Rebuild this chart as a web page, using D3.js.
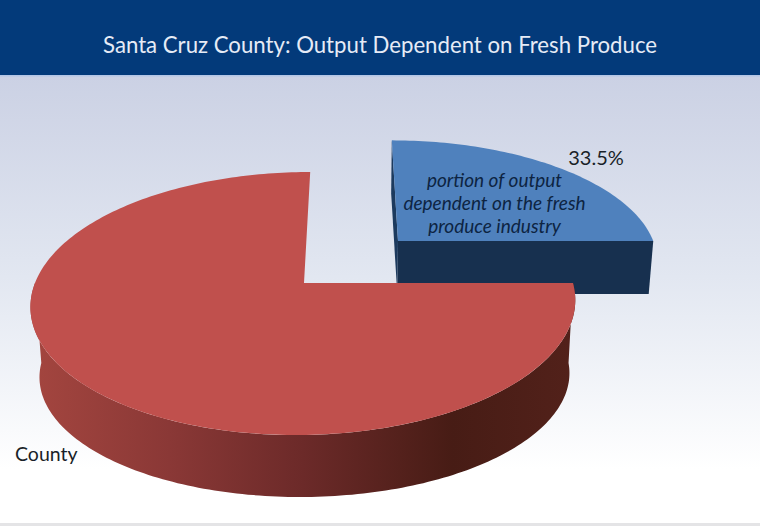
<!DOCTYPE html>
<html>
<head>
<meta charset="utf-8">
<script src="https://cdn.jsdelivr.net/npm/d3@7"></script>
<style>
  html, body { margin: 0; padding: 0; background: #fff; }
  svg { display: block; }
  text { font-family: "Lato", "Open Sans", sans-serif; }
</style>
</head>
<body>
<svg id="chart" width="760" height="526"></svg>
<script>
const titleText = 'Santa Cruz County: Output Dependent on Fresh Produce';

const categories = ['Fresh produce', 'County'];
// the slice is drawn as about a quarter of the pie, even though it is labelled 33.5%
const drawnShares = [25, 75];
const valueLabels = ['33.5%', ''];
const noteLines = ['portion of output', 'dependent on the fresh', 'produce industry'];

const topColors = ['#4f81bd', '#c0504d'];

const svg = d3.select('#chart');
const defs = svg.append('defs');

const bg = defs.append('linearGradient').attr('id', 'bg')
  .attr('x1', 0).attr('y1', 0).attr('x2', 0).attr('y2', 1);
bg.append('stop').attr('offset', '0%').attr('stop-color', '#cbd1e4');
bg.append('stop').attr('offset', '45%').attr('stop-color', '#e2e7f1');
bg.append('stop').attr('offset', '88%').attr('stop-color', '#ffffff');

const wall = defs.append('linearGradient').attr('id', 'redWall')
  .attr('gradientUnits', 'userSpaceOnUse')
  .attr('x1', 36).attr('y1', 0).attr('x2', 570).attr('y2', 0);
wall.append('stop').attr('offset', '0%').attr('stop-color', '#a3453f');
wall.append('stop').attr('offset', '25%').attr('stop-color', '#8a3836');
wall.append('stop').attr('offset', '50%').attr('stop-color', '#6c2a29');
wall.append('stop').attr('offset', '78%').attr('stop-color', '#471c15');
wall.append('stop').attr('offset', '100%').attr('stop-color', '#52211a');

svg.append('rect').attr('width', 760).attr('height', 526).attr('fill', '#fff');
svg.append('rect').attr('y', 76).attr('width', 760).attr('height', 447).attr('fill', 'url(#bg)');
svg.append('rect').attr('y', 523).attr('width', 760).attr('height', 3).attr('fill', '#e4e4e6');
svg.append('rect').attr('width', 760).attr('height', 75).attr('fill', '#033a7a');
svg.append('rect').attr('y', 75).attr('width', 760).attr('height', 1.5).attr('fill', '#b4c6e6');

svg.append('text')
  .attr('x', 380).attr('y', 53)
  .attr('text-anchor', 'middle')
  .attr('fill', '#e6ebf6')
  .attr('font-size', 23)
  .attr('textLength', 554)
  .attr('lengthAdjust', 'spacingAndGlyphs')
  .text(titleText);

// simple perspective: world units are pie radii, y runs toward the viewer
const vx = 350, vy = 283, A = 269, x0 = 0.171;
const planes = {
  top: { B: 128.3, k: 0.156, dy: 0, shrink: 1 },
  redBase: { B: 120.6, k: 0.1, dy: 80, shrink: 0.98 },
  blueBase: { B: 128.3, k: 0.156, dy: 53, shrink: 0.985 }
};

function project(X, Y, plane) {
  const w = 1 - plane.k * Y;
  return [
    vx + plane.shrink * A * (X - x0) / w,
    vy + plane.dy + plane.B * Y / w
  ];
}

const pie = d3.pie().sort(null).value(d => d);
const arcs = pie(drawnShares);
const line = d3.line();

function rimPoints(ox, oy, plane, from, to) {
  const n = Math.ceil((to - from) / 0.02);
  return d3.range(n + 1).map(i => {
    const t = from + (to - from) * i / n;
    return project(ox + Math.sin(t), oy - Math.cos(t), plane);
  });
}

// County slice stays put, the fresh produce slice is pulled out to the back right
const blueOffset = [0.359, -0.345];

function drawBlue() {
  const a = arcs[0];
  const [ox, oy] = blueOffset;
  const g = svg.append('g');
  const c = project(ox, oy, planes.top);
  const cB = project(ox, oy, planes.blueBase);
  const rim = rimPoints(ox, oy, planes.top, a.startAngle, a.endAngle);
  const rimB = rimPoints(ox, oy, planes.blueBase, a.startAngle, a.endAngle);
  g.append('path').attr('d', line([c, rim[0], rimB[0], cB]) + 'Z').attr('fill', '#1c3a5e');
  g.append('path').attr('d', line([c, rim[rim.length - 1], rimB[rimB.length - 1], cB]) + 'Z').attr('fill', '#17304f');
  g.append('path').attr('d', line([c].concat(rim)) + 'Z').attr('fill', topColors[0]);
}

function drawRed() {
  const a = arcs[1];
  const g = svg.append('g');
  const c = project(0, 0, planes.top);
  const rim = rimPoints(0, 0, planes.top, a.startAngle, a.endAngle);
  // only the front half of the wall can be seen
  const wallTop = rimPoints(0, 0, planes.top, a.startAngle, Math.PI * 1.5);
  const wallBase = rimPoints(0, 0, planes.redBase, a.startAngle, Math.PI * 1.5);
  g.append('path')
    .attr('d', line(wallTop.concat(wallBase.slice().reverse())) + 'Z')
    .attr('fill', 'url(#redWall)');
  g.append('path').attr('d', line([c].concat(rim)) + 'Z').attr('fill', topColors[1]);
}

drawBlue();
drawRed();

svg.append('text')
  .attr('x', 596).attr('y', 165)
  .attr('text-anchor', 'middle')
  .attr('fill', '#1a1f28')
  .attr('font-size', 20)
  .text(valueLabels[0]);

svg.append('text')
  .attr('x', 15).attr('y', 461)
  .attr('fill', '#1a1f28')
  .attr('font-size', 19.5)
  .text(categories[1]);

svg.selectAll('text.note')
  .data(noteLines)
  .join('text')
  .attr('class', 'note')
  .attr('x', 494.5)
  .attr('y', (d, i) => 187 + i * 23)
  .attr('text-anchor', 'middle')
  .attr('fill', '#0d2442')
  .attr('font-size', 19)
  .attr('font-style', 'italic')
  .text(d => d);
</script>
</body>
</html>
